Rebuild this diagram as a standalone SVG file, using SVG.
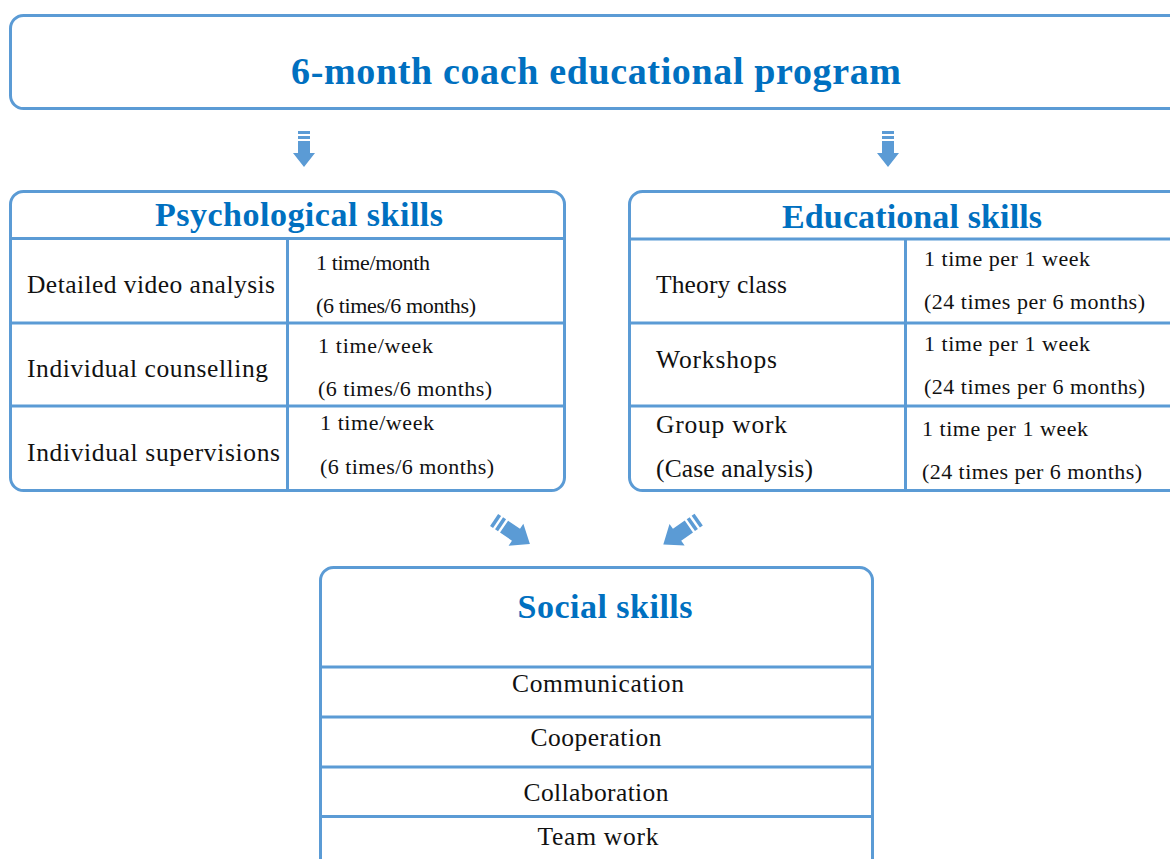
<svg xmlns="http://www.w3.org/2000/svg" width="1170" height="859" viewBox="0 0 1170 859">
  <style>
    .box { fill: #ffffff; stroke: #5B9BD5; stroke-width: 3; }
    .rule { stroke: #5B9BD5; stroke-width: 3; fill: none; }
    .head { font-family: "Liberation Serif", serif; font-weight: bold; fill: #0070C0; text-anchor: middle; }
    .cell { font-family: "Liberation Serif", serif; fill: #111111; font-size: 25.5px; }
    .small { font-family: "Liberation Serif", serif; fill: #111111; font-size: 22px; }
    .mid { text-anchor: middle; }
    .arrow { fill: #5B9BD5; }
  </style>
  <defs>
    <!-- striped block arrow pointing down, centred on the origin -->
    <g id="blockArrow">
      <rect x="-6" y="-18" width="12" height="3"/>
      <rect x="-6" y="-13" width="12" height="3"/>
      <polygon points="-6,-8 6,-8 6,4 11,4 0,18 -11,4 -6,4"/>
    </g>
  </defs>

  <rect width="1170" height="859" fill="#ffffff"/>

  <!-- top banner -->
  <g id="program">
    <rect class="box" x="10.5" y="15.5" width="1180" height="93" rx="13"/>
    <text class="head" x="596" y="84" font-size="38" textLength="610" lengthAdjust="spacing">6-month coach educational program</text>
  </g>

  <!-- psychological skills table -->
  <g id="psychological">
    <rect class="box" x="10.5" y="191.5" width="554" height="299" rx="13"/>
    <path class="rule" d="M10.5 238.5H564.5M10.5 323H564.5M10.5 406H564.5M287.5 238.5V490.5"/>
    <text class="head" x="299" y="226" font-size="34" textLength="288" lengthAdjust="spacing">Psychological skills</text>
    <text class="cell" x="27" y="293" textLength="248" lengthAdjust="spacing">Detailed video analysis</text>
    <text class="cell" x="27" y="377" textLength="241" lengthAdjust="spacing">Individual counselling</text>
    <text class="cell" x="27" y="461" textLength="253" lengthAdjust="spacing">Individual supervisions</text>
    <text class="small" x="316" y="270" font-size="20" textLength="114" lengthAdjust="spacing">1 time/month</text>
    <text class="small" x="316" y="313" font-size="20" textLength="160" lengthAdjust="spacing">(6 times/6 months)</text>
    <text class="small" x="318" y="353" textLength="115" lengthAdjust="spacing">1 time/week</text>
    <text class="small" x="318" y="396" textLength="174" lengthAdjust="spacing">(6 times/6 months)</text>
    <text class="small" x="320" y="430" textLength="114" lengthAdjust="spacing">1 time/week</text>
    <text class="small" x="320" y="474" textLength="174" lengthAdjust="spacing">(6 times/6 months)</text>
  </g>

  <!-- educational skills table -->
  <g id="educational">
    <rect class="box" x="629.5" y="191.5" width="560" height="299" rx="13"/>
    <path class="rule" d="M629.5 239H1170M629.5 323H1170M629.5 406H1170M905.5 239V490.5"/>
    <text class="head" x="912" y="228" font-size="34" textLength="260" lengthAdjust="spacing">Educational skills</text>
    <text class="cell" x="656" y="293" textLength="131" lengthAdjust="spacing">Theory class</text>
    <text class="cell" x="656" y="368" textLength="121" lengthAdjust="spacing">Workshops</text>
    <text class="cell" x="656" y="433" textLength="131" lengthAdjust="spacing">Group work</text>
    <text class="cell" x="656" y="477" textLength="157" lengthAdjust="spacing">(Case analysis)</text>
    <text class="small" x="924" y="266" textLength="166" lengthAdjust="spacing">1 time per 1 week</text>
    <text class="small" x="924" y="309" textLength="221" lengthAdjust="spacing">(24 times per 6 months)</text>
    <text class="small" x="924" y="351" textLength="166" lengthAdjust="spacing">1 time per 1 week</text>
    <text class="small" x="924" y="394" textLength="221" lengthAdjust="spacing">(24 times per 6 months)</text>
    <text class="small" x="922" y="436" textLength="166" lengthAdjust="spacing">1 time per 1 week</text>
    <text class="small" x="922" y="479" textLength="220" lengthAdjust="spacing">(24 times per 6 months)</text>
  </g>

  <!-- social skills table -->
  <g id="social">
    <rect class="box" x="320.5" y="567.5" width="552" height="310" rx="13"/>
    <path class="rule" d="M320.5 667H872.5M320.5 717H872.5M320.5 767H872.5M320.5 816.5H872.5"/>
    <text class="head" x="605" y="618" font-size="34" textLength="175" lengthAdjust="spacing">Social skills</text>
    <text class="cell mid" x="598" y="692" textLength="172" lengthAdjust="spacing">Communication</text>
    <text class="cell mid" x="596" y="746" textLength="131" lengthAdjust="spacing">Cooperation</text>
    <text class="cell mid" x="596" y="801" textLength="145" lengthAdjust="spacing">Collaboration</text>
    <text class="cell mid" x="598" y="845" textLength="121" lengthAdjust="spacing">Team work</text>
  </g>

  <!-- connectors -->
  <g id="connectors" class="arrow">
    <use href="#blockArrow" transform="translate(304 149)"/>
    <use href="#blockArrow" transform="translate(888 149)"/>
    <use href="#blockArrow" transform="translate(512 532) rotate(-56) scale(1.2)"/>
    <use href="#blockArrow" transform="translate(681 532) rotate(55) scale(1.2)"/>
  </g>
</svg>
